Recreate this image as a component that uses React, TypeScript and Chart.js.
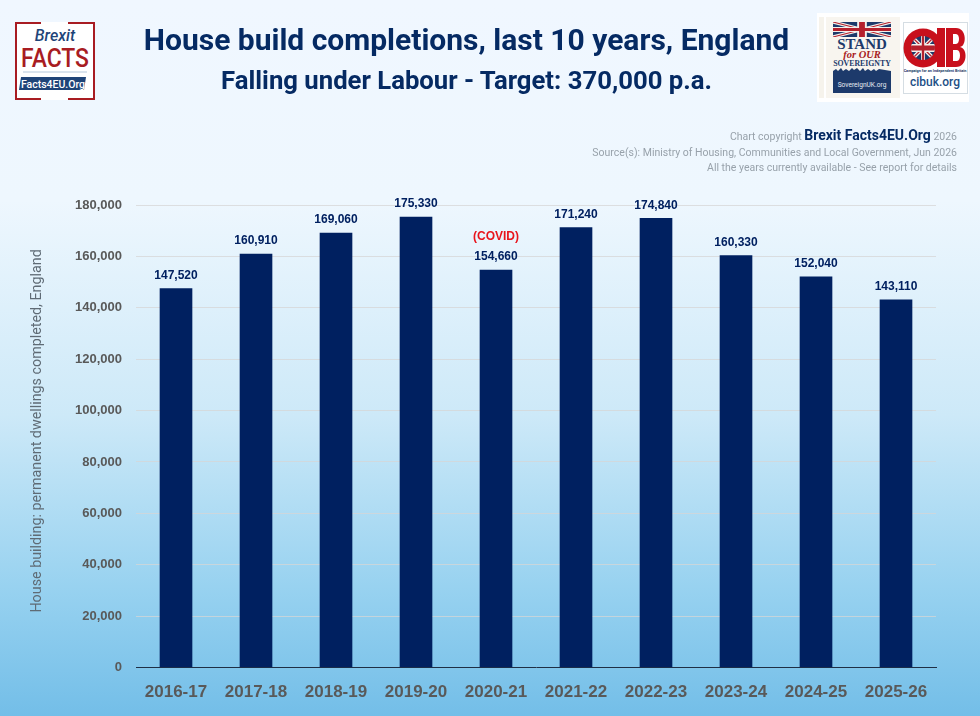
import { useEffect, useRef } from 'react';
import Chart from 'chart.js/auto';

const years = ['2016-17', '2017-18', '2018-19', '2019-20', '2020-21', '2021-22', '2022-23', '2023-24', '2024-25', '2025-26'];
const completions = [147520, 160910, 169060, 175330, 154660, 171240, 174840, 160330, 152040, 143110];
const covidYear = '2020-21';
const yMax = 180000;
const yStep = 20000;

const NAVY = '#002060';
const HEAD = '#052a63';
const headFont = 'Roboto, sans-serif';

function UnionJack({ x, y, w, h }: { x: number; y: number; w: number; h: number }) {
  return (
    <svg x={x} y={y} width={w} height={h} viewBox="0 0 60 30" preserveAspectRatio="none">
      <rect width="60" height="30" fill="#1d3a6b" />
      <path d="M0 0L60 30M60 0L0 30" stroke="#f4f1ec" strokeWidth="6" />
      <path d="M0 0L60 30M60 0L0 30" stroke="#b5202c" strokeWidth="2" />
      <path d="M30 0V30M0 15H60" stroke="#f4f1ec" strokeWidth="10" />
      <path d="M30 0V30M0 15H60" stroke="#b5202c" strokeWidth="6" />
    </svg>
  );
}

function BrexitLogo() {
  return (
    <svg width="80" height="78" style={{ position: 'absolute', left: 15, top: 22 }}>
      <rect x="0" y="0" width="80" height="78" fill="#fff" />
      <path d="M26 1H1V77H26M53 1H79V77H53" fill="none" stroke="#a81c22" strokeWidth="2" />
      <text x="40" y="19" textAnchor="middle" fontFamily={headFont} fontStyle="italic" fontWeight="500" fontSize="16" fill="#1f4478">Brexit</text>
      <text x="40" y="45" textAnchor="middle" fontFamily={headFont} fontWeight="500" fontSize="26" fill="#a81c22" textLength="68" lengthAdjust="spacingAndGlyphs">FACTS</text>
      <line x1="8" y1="50" x2="72" y2="50" stroke="#b5c8dc" />
      <path d="M6 55H71L69 68H4Z" fill="#1f4478" />
      <text x="38" y="66" textAnchor="middle" fontFamily={headFont} fontWeight="500" fontSize="10.5" fill="#fff">Facts4EU.Org</text>
    </svg>
  );
}

function PartnerLogos() {
  return (
    <svg width="152" height="89" style={{ position: 'absolute', left: 817, top: 13 }}>
      <rect width="152" height="89" fill="#fff" />
      <rect x="2" y="4" width="5" height="81" fill="#f6f3ec" />
      <rect x="9" y="4" width="74" height="81" fill="#f8f5ef" />
      <UnionJack x={16} y={9} w={58} h={15} />
      <text x="45" y="36" textAnchor="middle" fontFamily="Liberation Serif" fontWeight="700" fontSize="15" fill="#1d3a6b">STAND</text>
      <text x="45" y="45" textAnchor="middle" fontFamily="Liberation Serif" fontStyle="italic" fontWeight="700" fontSize="10.5" fill="#a81c22">for OUR</text>
      <text x="45" y="53" textAnchor="middle" fontFamily="Liberation Serif" fontWeight="700" fontSize="7.8" fill="#1d3a6b">SOVEREIGNTY</text>
      <path d="M16 58l3-2 2 2 3-3 2 3 3-2 3 2 3-3 2 2 3-2 3 3 3-3 2 3 3-2 3 2 3-2 2 2 3-2 L74 58V80H16Z" fill="#1d3a6b" />
      <text x="45" y="74" textAnchor="middle" fontFamily={headFont} fontSize="6.6" fill="#e8edf3">SovereignUK.org</text>
      <rect x="86.5" y="9.5" width="64" height="71" fill="#fff" stroke="#d5dde3" />
      <circle cx="106" cy="35" r="19.5" fill="#c8101c" />
      <clipPath id="ball"><circle cx="106" cy="35" r="12" /></clipPath>
      <g clipPath="url(#ball)"><UnionJack x={94} y={23} w={24} h={24} /></g>
      <rect x="120" y="15" width="8" height="39" fill="#c8101c" />
      <path d="M129 15H139C150 15 150 33 143 34C151 35 151 54 139 54H129ZM136 21V31H139C143 31 143 21 139 21ZM136 37V48H140C144 48 144 37 140 37Z" fillRule="evenodd" fill="#c8101c" />
      <text x="118" y="59" textAnchor="middle" fontFamily={headFont} fontSize="3.8" fontWeight="700" fill="#1d3a6b">Campaign for an Independent Britain</text>
      <text x="118" y="73" textAnchor="middle" fontFamily={headFont} fontWeight="500" fontSize="12" fill="#1d4f86">cibuk.org</text>
    </svg>
  );
}

const barLabels = {
  id: 'barLabels',
  afterDatasetsDraw(chart: any) {
    const { ctx } = chart;
    const bars = chart.getDatasetMeta(0).data;
    ctx.save();
    ctx.textAlign = 'center';
    ctx.textBaseline = 'middle';
    ctx.font = 'bold 12px "Liberation Sans"';
    bars.forEach((bar: any, i: number) => {
      ctx.fillStyle = NAVY;
      ctx.fillText(completions[i].toLocaleString('en-GB'), bar.x, bar.y - 13);
      if (years[i] === covidYear) {
        ctx.fillStyle = '#e8141c';
        ctx.fillText('(COVID)', bar.x, bar.y - 33);
      }
    });
    ctx.restore();
  },
};

export default function App() {
  const chartRef = useRef<HTMLCanvasElement | null>(null);

  useEffect(() => {
    let newChart: Chart | null = null;
    document.body.style.margin = '0';

    if (chartRef.current) {
      newChart = new Chart(chartRef.current, {
        type: 'bar',
        data: {
          labels: years,
          datasets: [
            {
              label: 'Completions',
              data: completions,
              backgroundColor: NAVY,
              barThickness: 32,
            },
          ],
        },
        plugins: [barLabels],
        options: {
          animation: false,
          responsive: false,
          layout: { padding: { top: 205, right: 44, bottom: 0, left: 29 } },
          plugins: {
            legend: { display: false },
            tooltip: { enabled: false },
          },
          scales: {
            x: {
              afterFit: (scale: any) => {
                scale.height = 48.5;
              },
              grid: {
                drawOnChartArea: false,
                drawTicks: false,
                color: '#1f2f45',
                lineWidth: 1,
              },
              border: { color: '#1f2f45', width: 1 },
              ticks: {
                color: '#595959',
                padding: 15,
                maxRotation: 0,
                autoSkip: false,
                font: { family: '"Liberation Sans"', size: 17, weight: 'bold' },
              },
            },
            y: {
              min: 0,
              max: yMax,
              afterFit: (scale: any) => {
                scale.width = 107;
              },
              grid: {
                color: 'rgba(214,214,214,0.75)',
                lineWidth: 1,
                drawTicks: false,
              },
              border: { display: false },
              ticks: {
                stepSize: yStep,
                color: '#595959',
                padding: 14,
                callback: (v: any) => Number(v).toLocaleString('en-GB'),
                font: { family: '"Liberation Sans"', size: 13, weight: 'bold' },
              },
              title: {
                display: true,
                // leading spaces lift the centred text, the original sits a little above the axis middle
                text: '\u00a0\u00a0\u00a0House building: permanent dwellings completed, England',
                color: '#5f6b75',
                padding: { top: 0, bottom: 0 },
                font: { family: headFont, size: 14.3, weight: 'normal' },
              },
            },
          },
        },
      });
    }

    return () => {
      if (newChart) {
        newChart.destroy();
      }
    };
  }, []);

  return (
    <div
      style={{
        position: 'relative',
        width: 980,
        height: 716,
        overflow: 'hidden',
        background: 'linear-gradient(180deg, #f0f7ff 0%, #eef7fe 28%, #cde9f8 58%, #98d2f0 82%, #73bee8 100%)',
      }}
    >
      <canvas ref={chartRef} width={980} height={716} style={{ position: 'absolute', left: 0, top: 0 }}></canvas>
      <BrexitLogo />
      <PartnerLogos />
      <div style={{ position: 'absolute', left: 0, top: 20, width: 933, textAlign: 'center', color: HEAD, fontFamily: headFont, fontWeight: 700, fontSize: 30, lineHeight: '40px' }}>
        House build completions, last 10 years, England
      </div>
      <div style={{ position: 'absolute', left: 0, top: 62, width: 933, textAlign: 'center', color: HEAD, fontFamily: headFont, fontWeight: 700, fontSize: 25.7, lineHeight: '36px' }}>
        Falling under Labour - Target: 370,000 p.a.
      </div>
      <div style={{ position: 'absolute', right: 23, top: 127, textAlign: 'right', color: '#98a2ab', fontFamily: headFont, fontSize: 10.5, lineHeight: '15px', whiteSpace: 'nowrap' }}>
        <div style={{ lineHeight: '17px' }}>
          Chart copyright <span style={{ color: HEAD, fontWeight: 700, fontSize: 14 }}>Brexit Facts4EU.Org</span> 2026
        </div>
        <div>Source(s): Ministry of Housing, Communities and Local Government, Jun 2026</div>
        <div>All the years currently available - See report for details</div>
      </div>
    </div>
  );
}
